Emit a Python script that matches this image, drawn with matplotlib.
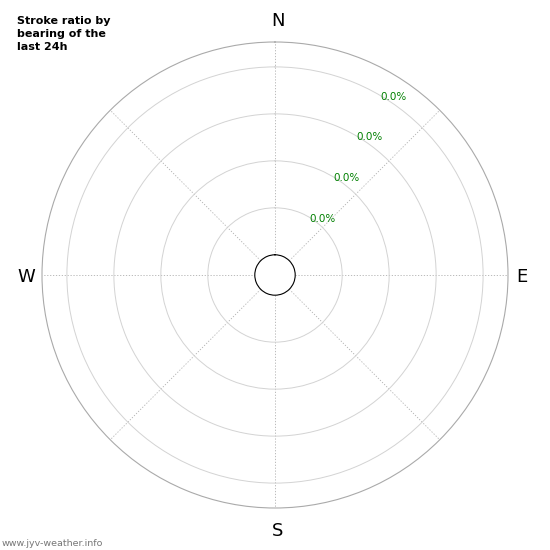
import numpy as np
import matplotlib
matplotlib.use("Agg")
import matplotlib.pyplot as plt
from matplotlib.transforms import ScaledTranslation

# Stroke ratio per bearing (all zero in the last 24h)
directions = ['N', 'NE', 'E', 'SE', 'S', 'SW', 'W', 'NW']
bearings_deg = [0, 45, 90, 135, 180, 225, 270, 315]
stroke_ratio = [0.0, 0.0, 0.0, 0.0, 0.0, 0.0, 0.0, 0.0]
ring_values = [1, 2, 3, 4]
ring_labels = ['0.0%', '0.0%', '0.0%', '0.0%']
compass_labels = ['N', 'E', 'S', 'W']

fig = plt.figure(figsize=(5.5, 5.5), dpi=100)
ax = fig.add_axes([42 / 550, 42 / 550, 466 / 550, 466 / 550], projection='polar')
ax.set_theta_zero_location('N')
ax.set_theta_direction(-1)

theta = np.deg2rad(bearings_deg)
ax.bar(theta, stroke_ratio, width=np.deg2rad(40), color='#1f77b4', alpha=0.7)

ax.set_ylim(0, 4.53)
ax.set_rorigin(-0.43)

ax.set_xticks(theta)
ax.set_xticklabels([])
ax.set_yticks(ring_values)
ax.set_yticklabels([])

# compass letters just outside the outer ring
compass_pos = [(0.506, 1.045), (1.030, 0.495), (0.506, -0.050), (-0.034, 0.495)]
for lbl, (px, py) in zip(compass_labels, compass_pos):
    ax.text(px, py, lbl, transform=ax.transAxes, fontsize=13,
            ha='center', va='center')

# ring labels along the 30 degree bearing
off = ax.transData + ScaledTranslation(1 / 100, -2 / 100, fig.dpi_scale_trans)
for r, lbl in zip(ring_values, ring_labels):
    ax.text(np.deg2rad(30), r, lbl, transform=off, fontsize=7.5,
            color='green', ha='left', va='center')

# rings solid light grey, spokes dotted
ax.yaxis.grid(True, color='#d3d3d3', linestyle='-', linewidth=0.7)
ax.xaxis.grid(True, color='#b0b0b0', linestyle=(0, (1.5, 2)), linewidth=0.6)
ax.spines['polar'].set_color('#aaaaaa')
ax.spines['polar'].set_linewidth(0.8)
ax.spines['inner'].set_color('black')
ax.spines['inner'].set_linewidth(0.8)

fig.text(17 / 550, 1 - 16 / 550, 'Stroke ratio by\nbearing of the\nlast 24h',
         fontsize=8, fontweight='bold', va='top', ha='left', linespacing=1.38)
fig.text(2 / 550, 2 / 550, 'www.jyv-weather.info', fontsize=6.8, color='#777777',
         ha='left', va='bottom')

fig.savefig('out.png', dpi=100)
